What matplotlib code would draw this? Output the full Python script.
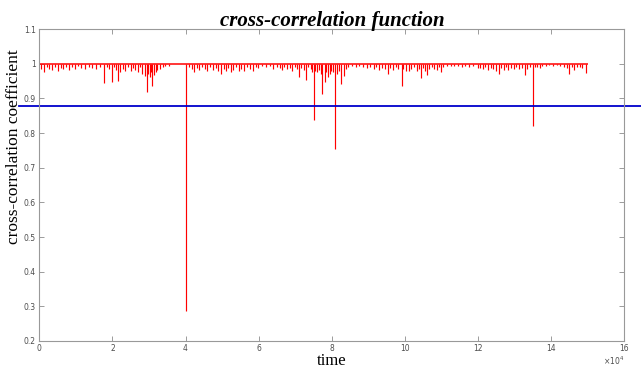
import matplotlib
matplotlib.use("Agg")
import matplotlib.pyplot as plt
import numpy as np

# temps en unites de 1e4, valeur du coefficient a chaque pic
spike_t = [0.05, 0.12, 0.2, 0.27, 0.35, 0.42, 0.5, 0.58, 0.66, 0.74, 0.82, 0.9, 0.98,
           1.06, 1.15, 1.25, 1.35, 1.45, 1.55, 1.65,
           1.77, 1.85, 1.92, 2.0, 2.05, 2.1, 2.16, 2.22, 2.28, 2.35, 2.42, 2.5, 2.57,
           2.63, 2.7, 2.76, 2.82, 2.88, 2.94, 2.98, 3.02, 3.05, 3.09, 3.13, 3.18, 3.23,
           3.3, 3.38, 3.45, 3.55, 4.0,
           4.1, 4.17, 4.24, 4.3, 4.38, 4.45, 4.52, 4.6, 4.68, 4.75, 4.82, 4.9, 4.97,
           5.04, 5.1, 5.17, 5.23, 5.3, 5.37, 5.45, 5.52, 5.6, 5.68, 5.76, 5.84, 5.92,
           5.98, 6.1, 6.2, 6.3, 6.4, 6.5, 6.58, 6.63, 6.7, 6.78, 6.85, 6.92, 6.98, 7.05,
           7.11, 7.17, 7.23, 7.29, 7.35, 7.42, 7.47, 7.5,
           7.55, 7.6, 7.65, 7.7, 7.74, 7.8, 7.85, 7.89, 7.94, 7.98, 8.03, 8.09, 8.14,
           8.2, 8.25, 8.32, 8.38, 8.45, 8.55, 8.65, 8.75, 8.85,
           8.95, 9.05, 9.15, 9.22, 9.3, 9.38, 9.45, 9.53, 9.6, 9.67, 9.75, 9.82, 9.91,
           9.96, 10.03, 10.1, 10.17, 10.25, 10.32, 10.38, 10.43, 10.5, 10.55, 10.6,
           10.67, 10.74, 10.8, 10.87, 10.93, 10.99, 11.05, 11.15, 11.25, 11.35, 11.45,
           11.55, 11.65, 11.75, 11.85,
           11.99, 12.06, 12.13, 12.2, 12.27, 12.35, 12.42, 12.5, 12.57, 12.63, 12.7,
           12.77, 12.83, 12.9, 12.97, 13.05, 13.12, 13.2, 13.28, 13.35, 13.42, 13.5,
           13.56, 13.62, 13.68, 13.75, 13.85, 13.95, 14.05, 14.15, 14.25, 14.35, 14.42,
           14.49, 14.56, 14.63, 14.7, 14.78, 14.85, 14.95]
spike_r = [0.985, 0.975, 0.99, 0.985, 0.982, 0.99, 0.978, 0.988, 0.985, 0.992, 0.983, 0.99, 0.986,
           0.993, 0.988, 0.984, 0.992, 0.989, 0.985, 0.99,
           0.944, 0.99, 0.985, 0.948, 0.99, 0.982, 0.95, 0.975, 0.985, 0.978, 0.99, 0.98, 0.988,
           0.983, 0.975, 0.99, 0.97, 0.965, 0.919, 0.97, 0.962, 0.975, 0.937, 0.968, 0.975, 0.982,
           0.985, 0.99, 0.993, 0.995, 0.286,
           0.99, 0.985, 0.975, 0.988, 0.982, 0.99, 0.985, 0.978, 0.99, 0.983, 0.988, 0.98, 0.971,
           0.985, 0.978, 0.988, 0.975, 0.982, 0.99, 0.98, 0.986, 0.978, 0.99, 0.985, 0.98, 0.99,
           0.987, 0.993, 0.99, 0.995, 0.985, 0.992, 0.988, 0.982, 0.99, 0.985, 0.988, 0.98, 0.99, 0.985,
           0.962, 0.988, 0.983, 0.953, 0.99, 0.985, 0.975, 0.838,
           0.98, 0.975, 0.982, 0.97, 0.912, 0.948, 0.975, 0.962, 0.97, 0.98, 0.975, 0.753, 0.972,
           0.98, 0.941, 0.965, 0.985, 0.99, 0.993, 0.99, 0.995, 0.99,
           0.988, 0.99, 0.985, 0.99, 0.982, 0.988, 0.985, 0.972, 0.988, 0.982, 0.99, 0.985, 0.937,
           0.985, 0.978, 0.979, 0.985, 0.99, 0.98, 0.985, 0.958, 0.988, 0.978, 0.969,
           0.985, 0.99, 0.985, 0.982, 0.99, 0.977, 0.99, 0.993, 0.995, 0.993, 0.995,
           0.99, 0.993, 0.99, 0.993,
           0.987, 0.988, 0.985, 0.99, 0.982, 0.988, 0.985, 0.98, 0.972, 0.988, 0.983,
           0.99, 0.982, 0.988, 0.985, 0.99, 0.985, 0.988, 0.968, 0.985, 0.99, 0.821,
           0.992, 0.99, 0.987, 0.995, 0.993, 0.996, 0.993, 0.996, 0.994, 0.99, 0.988,
           0.972, 0.99, 0.983, 0.992, 0.99, 0.988, 0.974]
t_end = 15.0
seuil = 0.879
xticks = [0, 2, 4, 6, 8, 10, 12, 14, 16]
yticks = [0.2, 0.3, 0.4, 0.5, 0.6, 0.7, 0.8, 0.9, 1, 1.1]
ylabels = ['0.2', '0.3', '0.4', '0.5', '0.6', '0.7', '0.8', '0.9', '1', '1.1']

fig = plt.figure(figsize=(6.41, 3.69), dpi=100)
ax = fig.add_axes([0.0613, 0.0759, 0.9127, 0.845])

# signal rouge : ligne a 1 et pics vers le bas
ax.hlines(1, 0, t_end, color='red', lw=1.1)
ax.vlines(spike_t, spike_r, 1, color='red', lw=0.85)

# seuil bleu qui deborde des axes
ax.plot([-0.55, 17.5], [seuil, seuil], color='#0000cc', lw=1.3, clip_on=False)

ax.set_xlim(0, 16)
ax.set_ylim(0.2, 1.1)
ax.set_xticks(xticks)
ax.set_xticklabels([str(v) for v in xticks])
ax.set_yticks(yticks)
ax.set_yticklabels(ylabels)
ax.tick_params(direction='in', length=3.5, width=0.6, colors='0.55',
               labelsize=5.5, labelcolor='0.3', top=True, right=True, pad=2.5)
for s in ax.spines.values():
    s.set_color('0.6')
    s.set_linewidth(0.8)

ax.text(1.0, -0.045, r'$\times10^4$', transform=ax.transAxes, ha='right', va='top',
        fontsize=5.5, color='0.3')

ax.set_title('cross-correlation function', fontfamily='Liberation Serif',
             fontweight='bold', fontstyle='italic', fontsize=15, pad=2)
ax.set_ylabel('cross-correlation coefficient', fontfamily='Liberation Serif', fontsize=12.5)
ax.yaxis.set_label_coords(-0.03, 0.623)
ax.set_xlabel('time', fontfamily='Liberation Serif', fontsize=12)
ax.xaxis.set_label_coords(0.5, -0.04)

fig.savefig('out.png', dpi=100)
